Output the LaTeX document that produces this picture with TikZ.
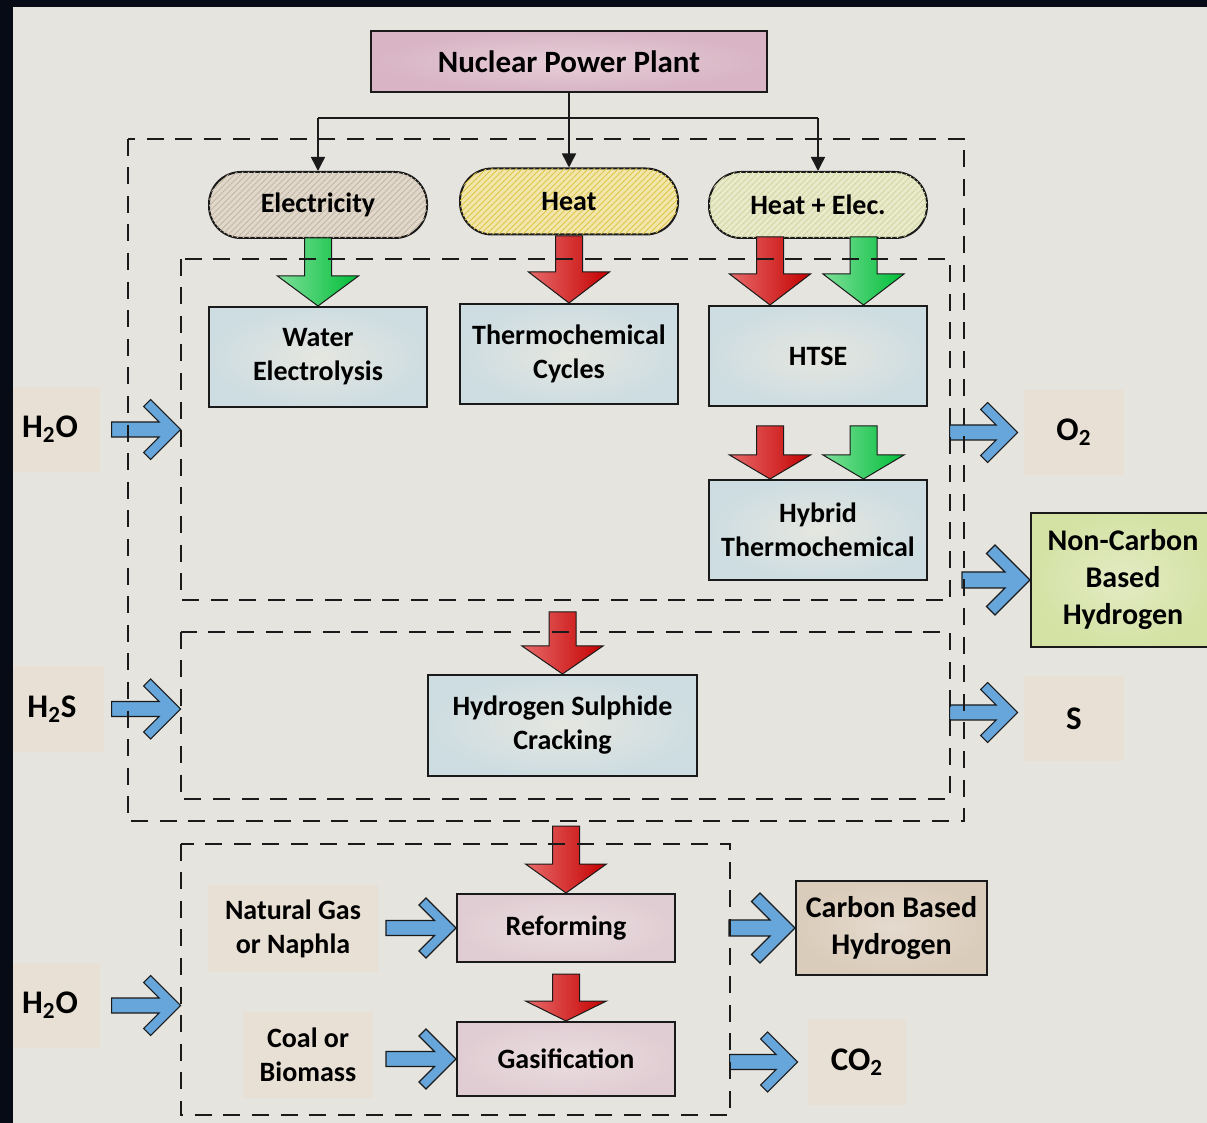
\documentclass[tikz,border=0pt]{standalone}
\usepackage{fontspec}
\setmainfont{Carlito}
\usetikzlibrary{arrows.meta,patterns,fit,calc}

\definecolor{bgcol}{HTML}{E6E4DF}
\definecolor{darkband}{HTML}{060B16}
\definecolor{lblbg}{HTML}{E9E0D5}
\definecolor{nppout}{HTML}{D8B4C4}
\definecolor{nppin}{HTML}{E7CFD8}
\definecolor{procout}{HTML}{CEDDE1}
\definecolor{procin}{HTML}{E5E6E0}
\definecolor{refout}{HTML}{E0CDD3}
\definecolor{refin}{HTML}{EADDDF}
\definecolor{ncbout}{HTML}{D4E2A4}
\definecolor{ncbin}{HTML}{E3EBC4}
\definecolor{cbhout}{HTML}{DACCBA}
\definecolor{cbhin}{HTML}{E4DACE}
\definecolor{elecfill}{HTML}{E0D8CC}
\definecolor{elecstripe}{HTML}{C6B7A2}
\definecolor{heatfill}{HTML}{F1E6AE}
\definecolor{heatstripe}{HTML}{E2C646}
\definecolor{hefill}{HTML}{E9EACB}
\definecolor{hestripe}{HTML}{D2D6A0}
\definecolor{flowblue}{HTML}{66A6DA}
\definecolor{redA}{HTML}{E86A6A}
\definecolor{redB}{HTML}{C40000}
\definecolor{greenA}{HTML}{7EDF9A}
\definecolor{greenB}{HTML}{00BE38}
\definecolor{ink}{HTML}{1A1A1A}

% downward block arrow: #1 tip, #2 total length, #3 head length, #4/#5 shading colours
\newcommand\blockdown[5]{%
  \path[draw=ink, line width=0.5pt, left color=#4, right color=#5]
    (#1) -- ++(-40.5,-#3) -- ++(27,0) -- ++(0,{-(#2-#3)}) -- ++(27,0)
    -- ++(0,{#2-#3}) -- ++(27,0) -- cycle;}

% horizontal feed arrow with chevron head: #1 tip, #2 length, #3 arm, #4 arm width, #5 shaft half-height
\newcommand\feedarrow[5]{%
  \path[draw=ink, line width=0.6pt, fill=flowblue]
    (#1) -- ++(-#3,-#3) -- ++(-#4,#4) -- ++({#3-#4-#5},{#3-#4-#5})
    -- ++({-(#2-2*#4-#5)},0) -- ++(0,{2*#5}) -- ++({#2-2*#4-#5},0)
    -- ++({-(#3-#4-#5)},{#3-#4-#5}) -- ++(#4,#4) -- cycle;}

\begin{document}
\begin{tikzpicture}[x=0.5pt,y=-0.5pt,
  every node/.style={font=\bfseries\fontsize{14}{17}\selectfont, text=black, align=center},
  boxline/.style={draw=ink, line width=1pt},
  procbox/.style={boxline, inner color=procin, outer color=procout,
    minimum width=109pt, minimum height=50pt, inner sep=1pt},
  pinkbox/.style={boxline, inner color=refin, outer color=refout,
    minimum width=109pt, inner sep=1pt},
  pill/.style={boxline, rounded corners=16pt, minimum width=109pt, minimum height=33pt},
  chem/.style={fill=lblbg, inner sep=0pt, font=\bfseries\fontsize{16.5}{19}\selectfont},
  feed/.style={fill=lblbg, inner sep=0pt},
  frame/.style={draw=ink, line width=1pt, dash pattern=on 8.5pt off 5.8pt},
  hidden/.style={inner sep=0pt},
  link/.style={draw=ink, line width=0.75pt},
  linkarrow/.style={link, -{Triangle[length=7pt,width=7pt]}}]

\useasboundingbox (0,0) rectangle (1207,1123);
\fill[bgcol] (0,0) rectangle (1207,1123);

% dashed frames (placed now, drawn last so they lie over the arrows)
\node[hidden, fit={(128,139) (964,821)}] (outer) {};
\node[hidden, fit={(181,259) (950,600)}] (in1) {};
\node[hidden, fit={(181,632) (950,799)}] (in2) {};
\node[hidden, fit={(181,844) (730,1115)}] (bot) {};

% source
\node[boxline, inner color=nppin, outer color=nppout, minimum width=198pt,
  minimum height=30.5pt, font=\bfseries\fontsize{15.5}{18}\selectfont] (npp) at (569,61.5) {Nuclear Power Plant};

% energy forms
\node[pill, fill=elecfill, postaction={pattern=north east lines, pattern color=elecstripe}] (elec) at (318,205) {Electricity};
\node[pill, fill=heatfill, postaction={pattern=north east lines, pattern color=heatstripe}] (heat) at (569,201.5) {Heat};
\node[pill, fill=hefill, postaction={pattern=north east lines, pattern color=hestripe}] (he) at (818,205) {Heat + Elec.};

% processes
\node[procbox] (wel) at (318,357) {Water\\Electrolysis};
\node[procbox] (thc) at (569,354) {Thermochemical\\Cycles};
\node[procbox] (htse) at (818,356) {HTSE};
\node[procbox] (hyb) at (818,530) {Hybrid\\Thermochemical};
\node[procbox, minimum width=134.5pt, minimum height=50.5pt] (hsc) at (562.5,725.5) {Hydrogen Sulphide\\Cracking};
\node[pinkbox, minimum height=34pt] (ref) at (566,928) {Reforming};
\node[pinkbox, minimum height=37pt] (gas) at (566,1059) {Gasification};

% products
\node[boxline, inner color=ncbin, outer color=ncbout, minimum width=92pt, minimum height=67pt,
  font=\bfseries\fontsize{15}{18.5}\selectfont] (ncb) at (1123,580) {Non-Carbon\\Based\\Hydrogen};
\node[boxline, inner color=cbhin, outer color=cbhout, minimum width=95.5pt, minimum height=47pt,
  font=\bfseries\fontsize{15}{18.5}\selectfont] (cbh) at (891.5,928) {Carbon Based\\Hydrogen};

% feeds and by-products
\node[chem, minimum width=50pt, minimum height=42.5pt] (h2oA) at (50,429.5) {H\textsubscript{2}O};
\node[chem, minimum width=52pt, minimum height=43pt] (h2s) at (52,709) {H\textsubscript{2}S};
\node[chem, minimum width=50pt, minimum height=42.5pt] (o2) at (1074,432.5) {O\textsubscript{2}};
\node[chem, minimum width=50pt, minimum height=42.5pt] (s) at (1074,718.5) {S};
\node[chem, minimum width=50pt, minimum height=42.5pt] (h2oB) at (50,1005.5) {H\textsubscript{2}O};
\node[chem, minimum width=49pt, minimum height=43pt] (co2) at (857,1062) {CO\textsubscript{2}};
\node[feed, minimum width=85pt, minimum height=43.5pt] (ng) at (293,928.5) {Natural Gas\\or Naphla};
\node[feed, minimum width=65pt, minimum height=43pt] (coal) at (308,1055) {Coal or\\Biomass};

% distribution of the plant output
\coordinate (bus) at (569,118);
\draw[linkarrow] (npp.south) -- (heat.north);
\draw[link] (bus -| elec.north) -- (bus -| he.north);
\draw[linkarrow] (bus -| elec.north) -- (elec.north);
\draw[linkarrow] (bus -| he.north) -- (he.north);

% energy supply arrows
\blockdown{wel.north}{68}{30}{greenA}{greenB}
\blockdown{thc.north}{67}{31}{redA}{redB}
\blockdown{$(htse.north)+(-48,0)$}{68}{31}{redA}{redB}
\blockdown{$(htse.north)+(45.5,0)$}{68}{31}{greenA}{greenB}
\blockdown{$(hyb.north)+(-48,0)$}{53}{24}{redA}{redB}
\blockdown{$(hyb.north)+(45.5,0)$}{53}{24}{greenA}{greenB}
\blockdown{hsc.north}{62}{28}{redA}{redB}
\blockdown{ref.north}{67}{29}{redA}{redB}
\blockdown{gas.north}{47}{20}{redA}{redB}

% material flows
\feedarrow{in1.west |- h2oA}{69}{30}{7}{7.5}
\feedarrow{in2.west |- h2s}{69}{30}{7}{7.5}
\feedarrow{$(o2.west)+(-6,0)$}{68}{30}{7}{7.5}
\feedarrow{ncb.west}{68}{35}{8.5}{8}
\feedarrow{$(s.west)+(-6,-6)$}{68}{30}{7}{7.5}
\feedarrow{bot.west |- h2oB}{69}{30}{7}{7.5}
\feedarrow{ref.west}{70}{30}{7}{7.5}
\feedarrow{gas.west}{70}{30}{7}{7.5}
\feedarrow{cbh.west}{66}{35}{8.5}{8}
\feedarrow{$(co2.west)+(-10,0)$}{68}{30}{7}{7.5}

% dashed frames
\foreach \f in {outer,in1,in2,bot}
  \draw[frame] (\f.north west) rectangle (\f.south east);

% dark edges
\fill[darkband] (0,0) rectangle (1207,7);
\fill[darkband] (0,0) rectangle (13,1123);
\end{tikzpicture}
\end{document}
